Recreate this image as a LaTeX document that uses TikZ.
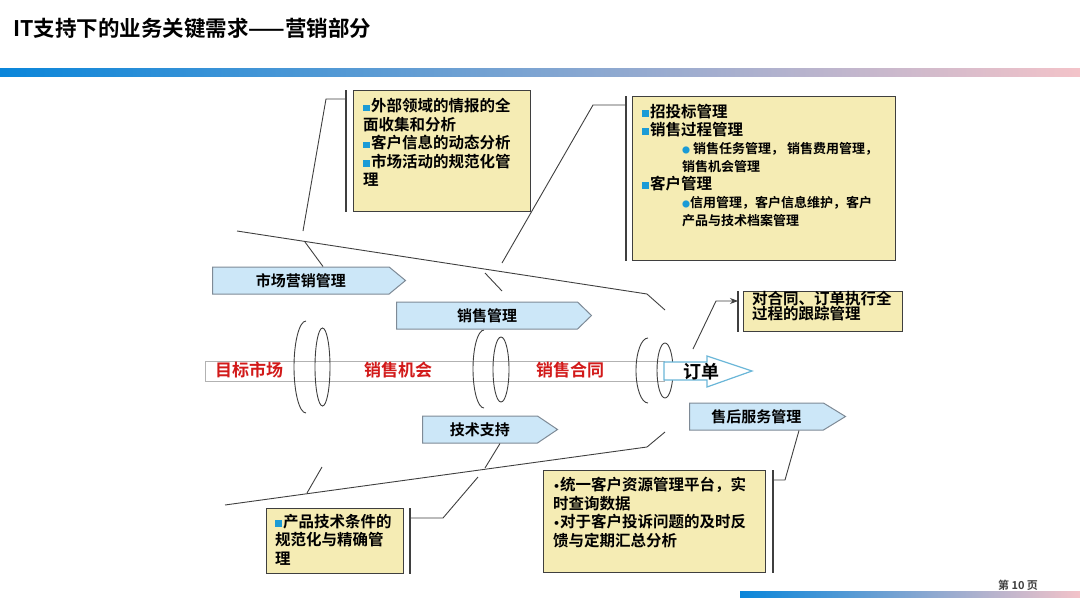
\documentclass[tikz,border=0pt]{standalone}
\usepackage{fontspec}
\setmainfont{Noto Sans CJK SC}[BoldFont={Noto Sans CJK SC Bold}]
\newfontfamily\dotfont{DejaVu Sans}
\usetikzlibrary{arrows.meta,positioning,shapes.arrows,shapes.symbols}
\definecolor{notepaper}{HTML}{F5ECB4}
\definecolor{stagefill}{HTML}{CCE7F8}
\definecolor{stageedge}{HTML}{7E8A96}
\definecolor{inkgray}{HTML}{3F3F3F}
\definecolor{flowred}{HTML}{D21A1A}
\definecolor{orderedge}{HTML}{6AB6D8}
\definecolor{bulletblue}{HTML}{1B9BD6}
\definecolor{barblue}{HTML}{0A86DA}
\definecolor{barmid}{HTML}{7BA7D3}
\definecolor{barpink}{HTML}{F3C3C9}
\newcommand{\sqbullet}{{\color{bulletblue}\rule[0.5pt]{6.5pt}{6.5pt}}\hspace{1.5pt}}
\newcommand{\dotbullet}{{\color{bulletblue}\fontsize{8}{8}\selectfont ●}}
\newcommand{\smalldot}{{\dotfont\fontsize{11}{11}\selectfont •}}
\newcommand{\subfont}{\fontsize{13}{16}\selectfont}

\begin{document}
\begin{tikzpicture}[x=1pt,y=-1pt,
 note/.style={draw=inkgray,fill=notepaper,line width=1pt,anchor=north west,inner sep=0pt},
 notetext/.style={anchor=north west,align=left,inner sep=0pt,
   font=\fontsize{15.5}{18.5}\selectfont\bfseries},
 stage/.style={signal,signal to=east,draw=stageedge,fill=stagefill,line width=1pt,
   anchor=west,inner sep=0pt,minimum height=27pt,font=\fontsize{15}{15}\selectfont\bfseries},
 flow/.style={text=flowred,font=\fontsize{17}{17}\selectfont\bfseries},
 ring/.style={draw=inkgray,line width=0.9pt},
 rib/.style={draw=inkgray,line width=0.9pt},
 bracket/.style={draw=inkgray,line width=1.2pt}]
 \useasboundingbox (0,0) rectangle (1080,608);
 % title and bars
 \node[anchor=west,inner sep=0pt,font=\fontsize{21.5}{21.5}\selectfont\bfseries] (title)
   at (13,28) {IT支持下的业务关键需求——营销部分};
 \shade[left color=barblue,middle color=barmid,right color=barpink] (0,68) rectangle (1080,76);
 \shade[left color=barblue,middle color=barmid,right color=barpink] (740,591) rectangle (1080,597);
 \node[font=\fontsize{11}{11}\selectfont\bfseries,text=inkgray] (pageno) at (1018,585) {第 10 页};

 % fish outline
 \coordinate (topL) at (237,231);
 \coordinate (topR) at (647,294);
 \coordinate (topTip) at (665,310);
 \coordinate (botL) at (225,505);
 \coordinate (botR) at (647,447);
 \coordinate (botTip) at (665,432);
 \draw[rib] (topL) -- (topR) -- (topTip);
 \draw[rib] (botL) -- (botR) -- (botTip);

 % main channel
 \node[draw=gray!60,fill=white,line width=1pt,anchor=west,minimum width=459pt,
   minimum height=20pt,inner sep=0pt] (channel) at (205,371) {};
 \draw[ring] (306,413) arc[start angle=90,end angle=270,x radius=12,y radius=46];
 \draw[ring] (322.5,367) ellipse[x radius=7.5,y radius=39];
 \draw[ring] (484,408) arc[start angle=90,end angle=270,x radius=11,y radius=39];
 \draw[ring] (501,369.5) ellipse[x radius=8,y radius=32.5];
 \draw[ring] (648,403) arc[start angle=90,end angle=270,x radius=12,y radius=32.5];
 \draw[ring] (665,370.5) ellipse[x radius=8,y radius=27.5];
 \node[flow] (target) at (249,370) {目标市场};
 \node[flow] (chance) at (398,370) {销售机会};
 \node[flow] (contract) at (570,370) {销售合同};
 \draw[draw=orderedge,fill=white,line width=1.2pt] (664,362) -- (707,362) -- (707,356)
   -- (752,371) -- (707,387) -- (707,380) -- (664,380) -- cycle;
 \node[font=\fontsize{18}{18}\selectfont\bfseries] (order) at (701,372) {订单};

 % stages
 \node[stage,minimum width=193pt,signal pointer angle=79] (mktmgmt) at (212,280.5) {市场营销管理};
 \node[stage,minimum width=195pt,signal pointer angle=88] (salesmgmt) at (396,315.5) {销售管理};
 \node[stage,minimum width=135pt,signal pointer angle=68] (techsup) at (422,429.5) {技术支持};
 \node[stage,minimum width=156pt,signal pointer angle=63] (aftersales) at (689,416.5) {售后服务管理};

 % notes
 \node[note,minimum width=177pt,minimum height=121pt] (mktnote) at (353,90) {};
 \node[notetext] (mkttext) at (363,98) {\sqbullet 外部领域的情报的全\\面收集和分析\\
   \sqbullet 客户信息的动态分析\\\sqbullet 市场活动的规范化管\\理};
 \node[note,minimum width=263pt,minimum height=164pt] (salesnote) at (632,96) {};
 \node[notetext,font=\fontsize{15.5}{18}\selectfont\bfseries] (salestext) at (642,104)
   {\sqbullet 招投标管理\\\sqbullet 销售过程管理\\
   {\subfont\hspace*{40pt}\dotbullet\ 销售任务管理， 销售费用管理，}\\
   {\subfont\hspace*{40pt}销售机会管理}\\
   \sqbullet 客户管理\\
   {\subfont\hspace*{40pt}\dotbullet 信用管理，客户信息维护，客户}\\
   {\subfont\hspace*{40pt}产品与技术档案管理}};
 \node[note,minimum width=137pt,minimum height=65pt] (technote) at (266,508) {};
 \node[notetext] (techtext) at (275,514) {\sqbullet 产品技术条件的\\规范化与精确管\\理};
 \node[note,minimum width=222pt,minimum height=102pt] (servnote) at (543,470) {};
 \node[notetext] (servtext) at (553,477) {\smalldot 统一客户资源管理平台，实\\时查询数据\\
   \smalldot 对于客户投诉问题的及时反\\馈与定期汇总分析};
 \node[note,minimum width=159pt,minimum height=40pt] (tracknote) at (743,291) {};
 \node[notetext,font=\fontsize{15.5}{15}\selectfont\bfseries] (tracktext) at (752,291)
   {对合同、订单执行全\\过程的跟踪管理};

 % brackets and callouts
 \draw[bracket] ([xshift=-7pt]mktnote.north west) -- ([xshift=-7pt]mktnote.south west);
 \draw[bracket] ([xshift=-6pt]salesnote.north west) -- ([xshift=-6pt]salesnote.south west);
 \draw[bracket] ([xshift=6pt]technote.north east) -- ([xshift=6pt]technote.south east);
 \draw[bracket] ([xshift=7pt]servnote.north east) -- ([xshift=7pt]servnote.south east);
 \draw[bracket] ([xshift=-5pt]tracknote.north west) -- ([xshift=-5pt]tracknote.south west);
 \draw[rib] (346,99) -- (326,99) -- (303,231);
 \draw[rib] (305,242) -- (mktmgmt.north -| 323,0);
 \draw[rib] (626,105) -- (593,105) -- (502,263);
 \draw[rib] (485,273) -- (502,291);
 \draw[rib] (techsup.south -| 500,0) -- (485,468);
 \draw[rib] (478,477) -- (443,518) -- (409,518);
 \draw[rib] (307,493) -- (322,467);
 \draw[rib] (772,480) -- (785,480) -- (aftersales.south -| 799,0);
 \draw[rib,-{Stealth[length=8pt,width=6pt]}] (693,349) -- (716,301) -- (738,301);
\end{tikzpicture}
\end{document}
